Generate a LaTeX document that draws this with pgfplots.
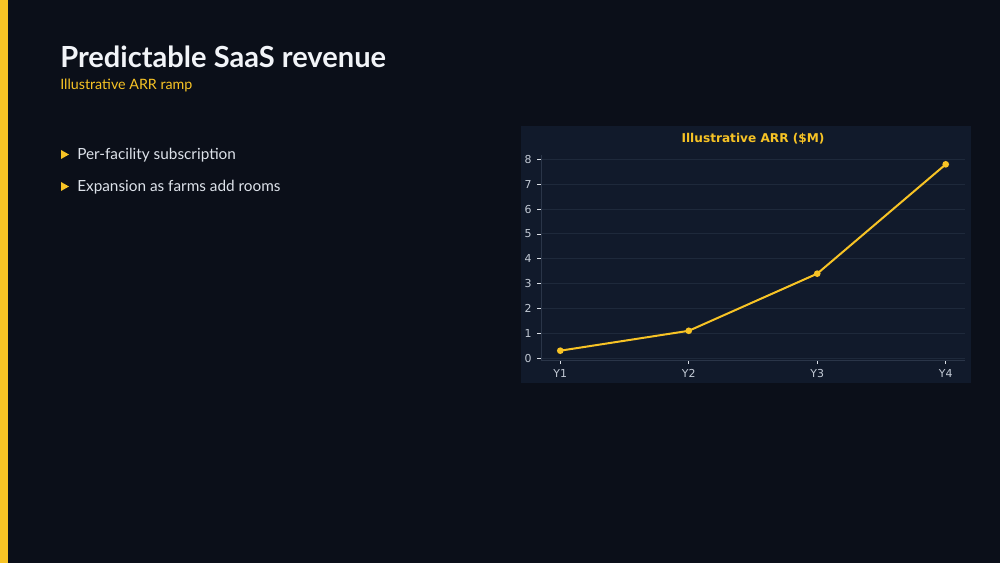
\documentclass[border=0pt]{standalone}
\usepackage{fontspec}
\usepackage{pgfplots}
\pgfplotsset{compat=1.18}
\setmainfont{Lato}
\newfontfamily\chartfont{DejaVu Sans}

\definecolor{bg}{HTML}{0B0F19}
\definecolor{panel}{HTML}{111A2B}
\definecolor{gridc}{HTML}{1E293B}
\definecolor{spine}{HTML}{2A3548}
\definecolor{ticktext}{HTML}{C3CAD5}
\definecolor{accent}{HTML}{F7C325}
\definecolor{headline}{HTML}{F2F4F8}
\definecolor{bodytext}{HTML}{DDE2EA}

\begin{document}
\begin{tikzpicture}[x=0.75pt,y=-0.75pt]
% slide background and accent bar
\fill[bg] (0,0) rectangle (1000,563);
\fill[accent] (0,0) rectangle (8,563);

% headings
\node[anchor=base west, inner sep=0pt, text=headline, font=\fontsize{21.8}{25}\selectfont\bfseries] at (60,68) {Predictable SaaS revenue};
\node[anchor=base west, inner sep=0pt, text=accent, font=\fontsize{10.7}{13}\selectfont] at (60,90) {Illustrative ARR ramp};

% bullets
\fill[accent] (61,150) -- (69,154.5) -- (61,159) -- cycle;
\node[anchor=base west, inner sep=0pt, text=bodytext, font=\fontsize{11.5}{14}\selectfont] at (77,160) {Per-facility subscription};
\fill[accent] (61,182) -- (69,186.5) -- (61,191) -- cycle;
\node[anchor=base west, inner sep=0pt, text=bodytext, font=\fontsize{11.5}{14}\selectfont] at (77,192) {Expansion as farms add rooms};

% chart panel
\fill[panel] (521,126) rectangle (971,383);
\node[text=accent, font=\chartfont\bfseries\fontsize{9.1}{11}\selectfont] at (753,138.5) {Illustrative ARR (\$M)};
\coordinate (origin) at (541,360);

\begin{axis}[
	at={(origin)}, anchor=south west,
	scale only axis,
	width=318pt, height=153.75pt,
	xmin=-0.15, xmax=3.15,
	ymin=-0.075, ymax=8.175,
	xtick={0,1,2,3},
	xticklabels={Y1,Y2,Y3,Y4},
	ytick={0,1,...,8},
	axis x line*=bottom,
	axis y line*=left,
	axis line style={spine, line width=0.6pt},
	every outer x axis line/.append style={-},
	every outer y axis line/.append style={-},
	tick style={color=ticktext!60, line width=0.5pt},
	major tick length=3pt,
	tick align=outside,
	ymajorgrids=true,
	grid style={gridc, line width=0.6pt},
	ticklabel style={text=ticktext, font=\chartfont\fontsize{8.2}{10}\selectfont},
	/pgf/number format/assume math mode=true,
	xticklabel style={yshift=-0.5pt},
	yticklabel style={xshift=-0.5pt},
	clip=false]
	\addplot[color=accent, line width=1.5pt, mark=*, mark size=1.7pt, mark options={fill=accent, draw=accent}] coordinates {
		(0,0.3)
		(1,1.1)
		(2,3.4)
		(3,7.8)};
\end{axis}
\end{tikzpicture}
\end{document}
